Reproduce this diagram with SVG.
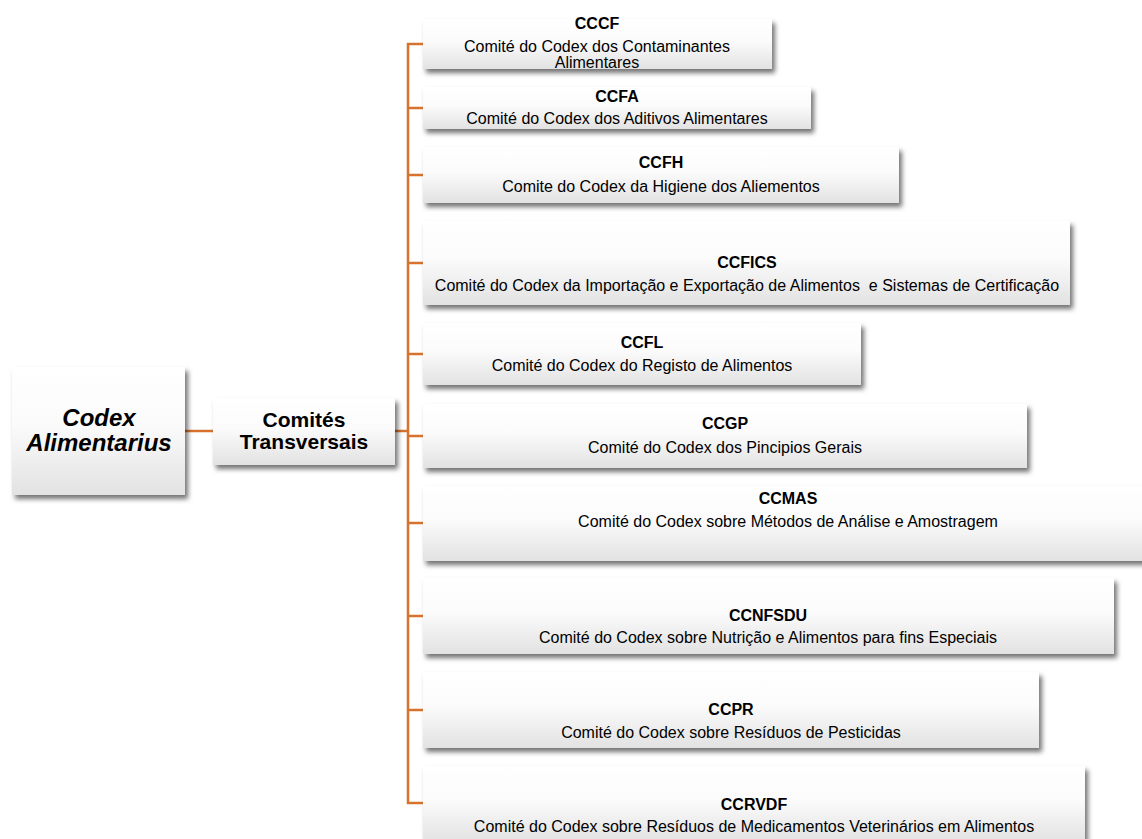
<svg xmlns="http://www.w3.org/2000/svg" width="1142" height="839" viewBox="0 0 1142 839">
<style>
.box{fill:url(#g);filter:url(#sh)}
.t{font-family:"Liberation Sans",Arial,sans-serif;font-size:16px;fill:#000;text-anchor:middle}
.b{font-weight:bold}
.big{font-family:"Liberation Sans",Arial,sans-serif;font-weight:bold;fill:#000;text-anchor:middle}
.ln{stroke:#D7722E;stroke-width:2.5;fill:none}
</style>
<defs>
<linearGradient id="g" x1="0" y1="0" x2="0" y2="1">
<stop offset="0" stop-color="#ffffff"/>
<stop offset="0.45" stop-color="#fbfbfb"/>
<stop offset="1" stop-color="#e2e2e2"/>
</linearGradient>
<filter id="sh" x="-10%" y="-20%" width="120%" height="150%">
<feDropShadow dx="3" dy="4" stdDeviation="2.5" flood-color="#000" flood-opacity="0.55"/>
</filter>
</defs>
<rect width="1142" height="839" fill="#fff"/>
<g id="connectors">
<line class="ln" x1="185" y1="431" x2="213" y2="431"/>
<line class="ln" x1="395" y1="431" x2="408" y2="431"/>
<line class="ln" x1="408" y1="43" x2="408" y2="804"/>
<line class="ln" x1="407" y1="44" x2="423" y2="44"/>
<line class="ln" x1="407" y1="108" x2="423" y2="108"/>
<line class="ln" x1="407" y1="175" x2="423" y2="175"/>
<line class="ln" x1="407" y1="263" x2="423" y2="263"/>
<line class="ln" x1="407" y1="354" x2="423" y2="354"/>
<line class="ln" x1="407" y1="436" x2="423" y2="436"/>
<line class="ln" x1="407" y1="523" x2="423" y2="523"/>
<line class="ln" x1="407" y1="616" x2="423" y2="616"/>
<line class="ln" x1="407" y1="710" x2="423" y2="710"/>
<line class="ln" x1="407" y1="803" x2="423" y2="803"/>
</g>
<g id="codex">
<rect class="box" x="12" y="367" width="173" height="128"/>
<text class="big" font-size="24" font-style="italic" x="99" y="426">Codex</text>
<text class="big" font-size="24" font-style="italic" x="99" y="451">Alimentarius</text>
</g>
<g id="comites">
<rect class="box" x="213" y="398" width="182" height="67"/>
<text class="big" font-size="21" x="304" y="427">Comités</text>
<text class="big" font-size="21" x="304" y="449">Transversais</text>
</g>
<g id="cccf">
<rect class="box" x="423" y="19" width="349" height="50"/>
<text class="t b" x="597" y="29">CCCF</text>
<text class="t" x="597" y="52">Comité do Codex dos Contaminantes</text>
<text class="t" x="597" y="68">Alimentares</text>
</g>
<g id="ccfa">
<rect class="box" x="423" y="87" width="388" height="42"/>
<text class="t b" x="617" y="102">CCFA</text>
<text class="t" x="617" y="124">Comité do Codex dos Aditivos Alimentares</text>
</g>
<g id="ccfh">
<rect class="box" x="423" y="147" width="476" height="56"/>
<text class="t b" x="661" y="168">CCFH</text>
<text class="t" x="661" y="192">Comite do Codex da Higiene dos Aliementos</text>
</g>
<g id="ccfics">
<rect class="box" x="423" y="221" width="647" height="84"/>
<text class="t b" x="747" y="268">CCFICS</text>
<text class="t" x="747" y="291" style="white-space:pre">Comité do Codex da Importação e Exportação de Alimentos  e Sistemas de Certificação</text>
</g>
<g id="ccfl">
<rect class="box" x="423" y="323" width="438" height="62"/>
<text class="t b" x="642" y="348">CCFL</text>
<text class="t" x="642" y="371">Comité do Codex do Registo de Alimentos</text>
</g>
<g id="ccgp">
<rect class="box" x="423" y="404" width="604" height="64"/>
<text class="t b" x="725" y="429">CCGP</text>
<text class="t" x="725" y="453">Comité do Codex dos Pincipios Gerais</text>
</g>
<g id="ccmas">
<rect class="box" x="423" y="486" width="731" height="75"/>
<text class="t b" x="788" y="504">CCMAS</text>
<text class="t" x="788" y="527">Comité do Codex sobre Métodos de Análise e Amostragem</text>
</g>
<g id="ccnfsdu">
<rect class="box" x="423" y="578" width="691" height="76"/>
<text class="t b" x="768" y="621">CCNFSDU</text>
<text class="t" x="768" y="643">Comité do Codex sobre Nutrição e Alimentos para fins Especiais</text>
</g>
<g id="ccpr">
<rect class="box" x="423" y="672" width="616" height="76"/>
<text class="t b" x="731" y="715">CCPR</text>
<text class="t" x="731" y="738">Comité do Codex sobre Resíduos de Pesticidas</text>
</g>
<g id="ccrvdf">
<rect class="box" x="423" y="766" width="662" height="76"/>
<text class="t b" x="754" y="810">CCRVDF</text>
<text class="t" x="754" y="832">Comité do Codex sobre Resíduos de Medicamentos Veterinários em Alimentos</text>
</g>
</svg>
